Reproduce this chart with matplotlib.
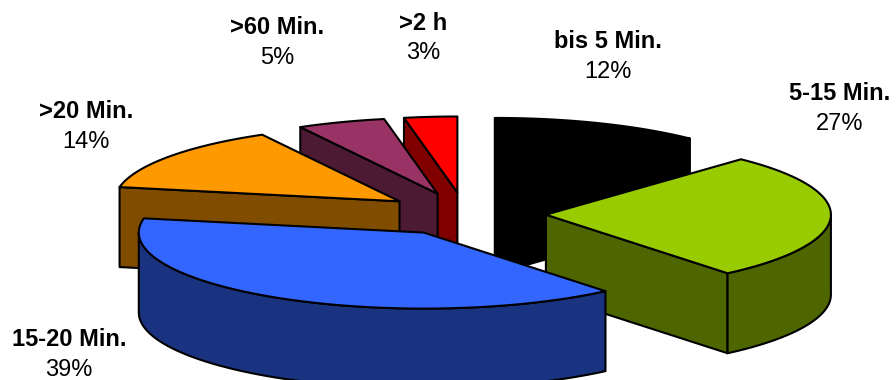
import numpy as np
import matplotlib
matplotlib.use("Agg")
import matplotlib.pyplot as plt
from matplotlib.colors import to_rgb
from matplotlib.patches import Polygon

plt.rcParams['font.family'] = ['Liberation Sans', 'DejaVu Sans']

# Shares of each duration class, clockwise from twelve o'clock
categories = ["bis 5 Min.", "5-15 Min.", "15-20 Min.", ">20 Min.", ">60 Min.", ">2 h"]
shares = [12, 27, 39, 14, 5, 3]
colors = ["#000000", "#99cc00", "#3366ff", "#ff9900", "#993366", "#ff0000"]

# Pie geometry in pixel units
CX, CY = 465, 214
RX, RY = 285, 76
EXPLODE = 0.284
DEPTH = 80
EDGE = 1.5

# Label anchor per class (x, y of the category line)
label_pos = [(608, 42), (840, 94), (69, 340), (86, 112), (277, 28), (423, 23)]
LINE_GAP = 30

# Back-to-front drawing order
draw_order = [0, 5, 4, 3, 1, 2]

fig = plt.figure(figsize=(8.96, 3.8), dpi=100)
ax = fig.add_axes([0, 0, 1, 1])
ax.set_xlim(0, 896)
ax.set_ylim(380, 0)
ax.axis("off")


def rim(cx, cy, theta):
    return np.column_stack([cx + RX * np.sin(theta), cy - RY * np.cos(theta)])


def draw_slice(start, end, color):
    mid = (start + end) / 2
    cx = CX + EXPLODE * RX * np.sin(mid)
    cy = CY - EXPLODE * RY * np.cos(mid)
    top_col = to_rgb(color)
    wall_col = tuple(c * 0.5 for c in top_col)
    apex = np.array([cx, cy])
    down = np.array([0, DEPTH])
    style = dict(closed=True, edgecolor="black", linewidth=EDGE, joinstyle="round")

    # Cut faces along the radial edges, only those turned towards the viewer
    cuts = []
    if start > np.pi:
        cuts.append(start)
    if end < np.pi:
        cuts.append(end)
    for theta in cuts:
        p = rim(cx, cy, np.array([theta]))[0]
        ax.add_patch(Polygon([apex, p, p + down, apex + down], facecolor=wall_col, **style))

    # Outer curved wall, only along the part of the rim facing the viewer
    lo, hi = max(start, np.pi / 2), min(end, 3 * np.pi / 2)
    if hi > lo:
        arc = rim(cx, cy, np.linspace(lo, hi, 120))
        ax.add_patch(Polygon(np.vstack([arc, (arc + down)[::-1]]), facecolor=wall_col, **style))

    # Top face
    arc = rim(cx, cy, np.linspace(start, end, 160))
    ax.add_patch(Polygon(np.vstack([apex, arc]), facecolor=top_col, **style))


bounds = np.cumsum([0] + shares) / sum(shares) * 2 * np.pi
for i in draw_order:
    draw_slice(bounds[i], bounds[i + 1], colors[i])

for name, share, (x, y) in zip(categories, shares, label_pos):
    ax.text(x, y, name, ha="center", va="center", fontsize=17, fontweight="bold", color="black")
    ax.text(x, y + LINE_GAP, f"{share}%", ha="center", va="center", fontsize=17, color="black")

fig.savefig("out.png", dpi=100, facecolor="white")
